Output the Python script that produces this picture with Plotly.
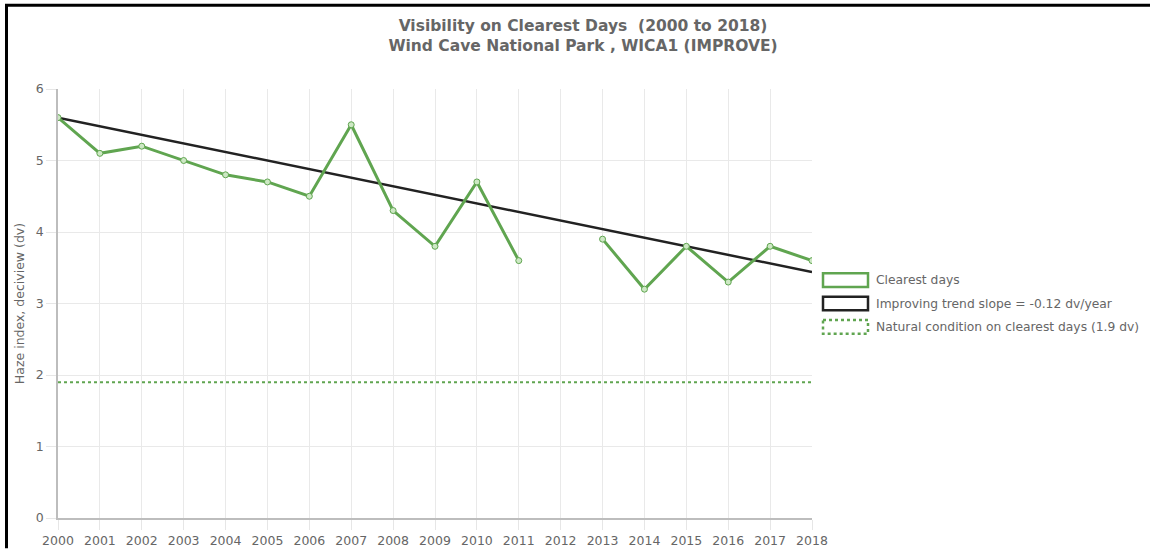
import plotly.graph_objects as go

# Annual haze index on the clearest days (deciviews)
years = list(range(2000, 2019))
clearest_dv = [5.6, 5.1, 5.2, 5.0, 4.8, 4.7, 4.5, 5.5, 4.3, 3.8, 4.7, 3.6,
               None, 3.9, 3.2, 3.8, 3.3, 3.8, 3.6]
trend_start_dv = 5.6
trend_slope = -0.12          # dv per year
natural_dv = 1.9
year_labels = [str(y) for y in years]
y_ticks = [0, 1, 2, 3, 4, 5, 6]
legend_names = [
    "Clearest days",
    "Improving trend slope = -0.12 dv/year",
    "Natural condition on clearest days (1.9 dv)",
]

FONT = "DejaVu Sans, Verdana, sans-serif"
green = "rgb(96,165,80)"
dark = "rgb(34,34,34)"
grey_text = "#666666"

W, H = 1150, 560
L, R, T, B = 58, 338, 89, 31
PW, PH = W - L - R, H - T - B


def px(x):
    """Horizontal pixel -> paper coordinate."""
    return (x - L) / PW


def py(y):
    """Vertical pixel (from top) -> paper coordinate."""
    return (H - B - y) / PH


trend_years = [years[0], years[-1]]
trend_dv = [trend_start_dv + trend_slope * (y - years[0]) for y in trend_years]

fig = go.Figure()

fig.add_trace(go.Scatter(
    x=[years[0], years[-1]], y=[natural_dv, natural_dv], mode="lines",
    name=legend_names[2], line=dict(color=green, width=2, dash="dot"),
    showlegend=False, hoverinfo="skip"))

fig.add_trace(go.Scatter(
    x=trend_years, y=trend_dv, mode="lines", name=legend_names[1],
    line=dict(color=dark, width=2.5), showlegend=False))

fig.add_trace(go.Scatter(
    x=years, y=clearest_dv, mode="lines+markers", connectgaps=False,
    name=legend_names[0], line=dict(color=green, width=3),
    marker=dict(symbol="circle", size=6, color="rgba(205,232,196,1)",
                line=dict(color=green, width=1)),
    showlegend=False))

# Legend: outlined boxes with labels to the right of the plot
legend_styles = [(green, "solid"), (dark, "solid"), (green, "dot")]
legend_rows = [285, 309, 333]
for name, (col, dash), yc in zip(legend_names, legend_styles, legend_rows):
    fig.add_shape(type="rect", xref="paper", yref="paper",
                  x0=px(823), x1=px(868), y0=py(yc - 7), y1=py(yc + 7),
                  line=dict(color=col, width=2.5, dash=dash),
                  fillcolor="white", layer="above")
    fig.add_annotation(xref="paper", yref="paper", x=px(874), y=py(yc),
                       xanchor="left", yanchor="middle", showarrow=False,
                       text=name, font=dict(family=FONT, size=12.3, color=grey_text))

axis_common = dict(
    showgrid=True, gridcolor="#e9e9e9", gridwidth=1,
    showline=True, linecolor="#bdbdbd", linewidth=1.5,
    ticks="outside", ticklen=10, tickcolor="#e6e6e6",
    tickfont=dict(family=FONT, size=12.5, color=grey_text),
    zeroline=False,
)

fig.update_xaxes(range=[2000, 2018], tickmode="array", tickvals=years,
                 ticktext=year_labels, **axis_common)
fig.update_yaxes(range=[0, 6], tickmode="array", tickvals=y_ticks,
                 title=dict(text="Haze index, deciview (dv)", standoff=8,
                            font=dict(family=FONT, size=12.5, color=grey_text)),
                 **axis_common)

fig.update_layout(
    width=W, height=H,
    margin=dict(l=L, r=R, t=T, b=B),
    paper_bgcolor="white", plot_bgcolor="white",
    showlegend=False,
    title=dict(text="Visibility on Clearest Days  (2000 to 2018)<br>Wind Cave National Park , WICA1 (IMPROVE)",
               xref="container", x=583 / W, xanchor="center",
               yref="container", y=1 - 31 / H, yanchor="middle",
               font=dict(family=FONT, size=15.5, color=grey_text, weight="bold")),
    hovermode="closest",
)

# Black frame along the top and left edges of the figure
fig.add_shape(type="line", xref="paper", yref="paper", layer="above",
              x0=px(5), x1=px(W), y0=py(3), y1=py(3),
              line=dict(color="black", width=3))
fig.add_shape(type="line", xref="paper", yref="paper", layer="above",
              x0=px(6.5), x1=px(6.5), y0=py(2), y1=py(H),
              line=dict(color="black", width=3))

fig.write_html("out.html")
